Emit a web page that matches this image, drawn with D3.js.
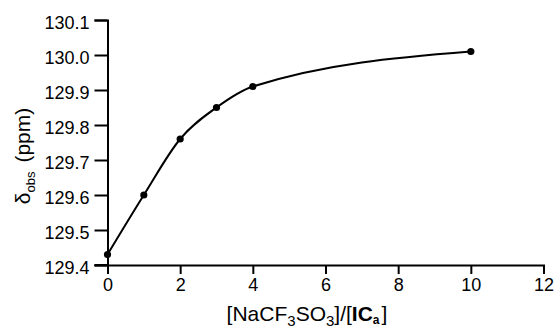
<!DOCTYPE html>
<html><head><meta charset="utf-8">
<script src="https://cdn.jsdelivr.net/npm/d3@7"></script>
<style>body{margin:0;background:#fff}svg{display:block}text{font-family:"Liberation Sans",Arial,sans-serif;fill:#000}</style>
</head><body>
<svg id="c" width="556" height="328"></svg>
<script>
const ratio = [0, 1, 2, 3, 4, 10];
const shift = [129.43, 129.60, 129.76, 129.85, 129.91, 130.01];
const xTicks = [0, 2, 4, 6, 8, 10, 12];
const yTicks = [129.4, 129.5, 129.6, 129.7, 129.8, 129.9, 130.0, 130.1];

const svg = d3.select("#c");
const x = d3.scaleLinear().domain([0, 12]).range([107.5, 543.5]);
const y = d3.scaleLinear().domain([129.4, 130.1]).range([265, 20]);

const xa = svg.append("g").attr("transform", "translate(0,265)")
  .call(d3.axisBottom(x).tickValues(xTicks).tickFormat(d3.format("d")).tickSizeOuter(0).tickSize(9).tickPadding(4));
const ya = svg.append("g").attr("transform", "translate(107.5,0)")
  .call(d3.axisLeft(y).tickValues(yTicks).tickFormat(d3.format(".1f")).tickSizeOuter(0).tickSize(13).tickPadding(5));
[xa, ya].forEach(g => {
  g.select(".domain").attr("stroke", "#000").attr("stroke-width", 2);
  g.selectAll(".tick line").attr("stroke", "#000").attr("stroke-width", 2);
  g.selectAll(".tick text").attr("font-size", 18).attr("font-family", "Liberation Sans, Arial, sans-serif");
});
ya.selectAll(".tick text").attr("dy", "0.45em");
// extend x-axis line to left of y axis
svg.append("line").attr("x1", 94.5).attr("x2", 107.5).attr("y1", 265).attr("y2", 265).attr("stroke", "#000").attr("stroke-width", 2);

const line = d3.line().x((d, i) => x(ratio[i])).y(d => y(d)).curve(d3.curveMonotoneX);
svg.append("path").attr("d", line(shift)).attr("fill", "none").attr("stroke", "#000").attr("stroke-width", 2);

svg.append("g").selectAll("circle").data(shift).join("circle")
  .attr("cx", (d, i) => x(ratio[i])).attr("cy", d => y(d)).attr("r", 3.6).attr("fill", "#000");

// y title
const yt = svg.append("text").attr("transform", "translate(30,156) rotate(-90)").attr("text-anchor", "middle").attr("font-size", 21);
yt.append("tspan").text("δ");
yt.append("tspan").attr("font-size", 13).attr("dy", 5).text("obs");
yt.append("tspan").attr("dy", -5).attr("dx", 9).text("(ppm)");

// x title
const xt = svg.append("text").attr("x", 307).attr("y", 321).attr("text-anchor", "middle").attr("font-size", 21);
xt.append("tspan").text("[NaCF");
xt.append("tspan").attr("font-size", 15).attr("dy", 5).text("3");
xt.append("tspan").attr("dy", -5).text("SO");
xt.append("tspan").attr("font-size", 15).attr("dy", 5).text("3");
xt.append("tspan").attr("dy", -5).text("]/[");
xt.append("tspan").attr("font-weight", "bold").text("IC");
xt.append("tspan").attr("font-weight", "bold").attr("font-size", 12).attr("dy", 3).text("a");
xt.append("tspan").attr("dy", -3).attr("dx", 2).text("]");
</script>
</body></html>
